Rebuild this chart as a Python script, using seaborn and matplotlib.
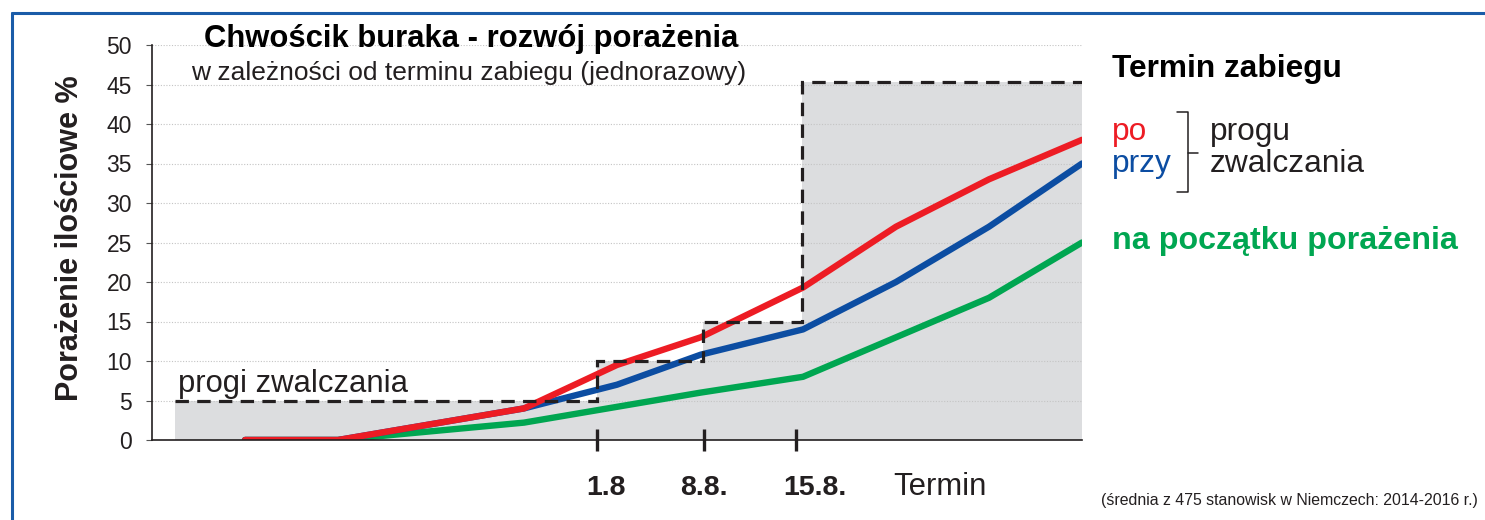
import pandas as pd
import seaborn as sns
import matplotlib.pyplot as plt
from matplotlib.lines import Line2D
from matplotlib.transforms import ScaledTranslation

# wartości (oś x w jednostkach kolejnych terminów)
termin_x = [0, 1, 3, 4, 4.9, 6, 7, 8, 9]
po_progu = [0, 0, 4, 9.5, 13, 19.3, 27, 33, 38]
przy_progu = [0, 0, 4, 7, 10.8, 14, 20, 27, 35]
na_poczatku = [0, 0, 2.2, 4.2, 6, 8, 13, 18, 25]

# progi zwalczania (schodki)
prog_granice = [-0.75, 3.78, 4.92, 5.99, 9.0]
prog_wartosci = [5, 10, 15, 45.3]

daty_x = [3.78, 4.935, 5.92]
daty_etykiety = ["1.8", "8.8.", "15.8."]
y_ticks = list(range(0, 55, 5))

serie = ["na początku", "przy", "po"]
kolory = {"po": "#ed1c24", "przy": "#0c4da2", "na początku": "#00a651"}
ciemny = "#231f20"

df = pd.DataFrame({
    "x": termin_x * 3,
    "y": po_progu + przy_progu + na_poczatku,
    "seria": ["po"] * len(termin_x) + ["przy"] * len(termin_x) + ["na początku"] * len(termin_x),
})

sns.set_style("white")
plt.rcParams['font.family'] = ['Liberation Sans', 'DejaVu Sans']

fig = plt.figure(figsize=(14.85, 5.2), dpi=100)
W, H = 1485, 520
ax = fig.add_axes([152 / W, 1 - 440 / H, 930 / W, 395 / H])

ax.stairs(prog_wartosci, prog_granice, fill=True, color="#dcdddf", baseline=0, zorder=0.3)

sns.lineplot(data=df, x="x", y="y", hue="seria", hue_order=serie, palette=kolory,
             linewidth=4.6, legend=False, sort=False, ax=ax, zorder=2,
             solid_capstyle="round", solid_joinstyle="round")

ax.stairs(prog_wartosci, prog_granice, baseline=None, color=ciemny, linewidth=2.3,
          linestyle=(0, (4.2, 2.6)), zorder=3)

ax.set_xlim(-1, 9)
ax.set_ylim(0, 50)
ax.set_axisbelow(True)
ax.yaxis.grid(True, linestyle=(0, (1, 1.5)), color="#c4c4c4", linewidth=0.8)
ax.xaxis.grid(False)

ax.set_yticks(y_ticks)
ax.tick_params(axis="y", left=True, length=4.5, width=0.8, color="#555555",
               labelsize=16.5, pad=10, labelcolor=ciemny)
ax.set_xticks(daty_x, daty_etykiety)
ax.tick_params(axis="x", bottom=True, direction="inout", length=16, width=2.4, color=ciemny,
               labelsize=20.5, pad=17, labelcolor=ciemny)
# etykiety dat lekko przesunięte w prawo, jak w oryginale
for lab, dx in zip(ax.get_xticklabels(), [9, 0, 19]):
    lab.set_fontweight("bold")
    lab.set_transform(lab.get_transform() + ScaledTranslation(dx / 100, 0, fig.dpi_scale_trans))

for s in ["top", "right"]:
    ax.spines[s].set_visible(False)
for s in ["left", "bottom"]:
    ax.spines[s].set_color(ciemny)
    ax.spines[s].set_linewidth(1.2)

ax.set_xlabel("")
ax.set_ylabel("Porażenie ilościowe %", fontsize=22, fontweight="bold", color=ciemny)
ax.yaxis.set_label_coords(-0.088, 0.511)
ax.yaxis.label.set_verticalalignment("center")

ax.text(-0.72, 6.1, "progi zwalczania", fontsize=22.3, color=ciemny, va="baseline")

# tytuł
fig.text(471 / W, 1 - 47 / H, "Chwościk buraka - rozwój porażenia", ha="center", va="baseline",
         fontsize=22.3, fontweight="bold", color="black")
fig.text(469 / W, 1 - 80 / H, "w zależności od terminu zabiegu (jednorazowy)", ha="center",
         va="baseline", fontsize=19, color=ciemny)

fig.text(893 / W, 1 - 495 / H, "Termin", fontsize=22.3, va="baseline", color=ciemny)

# legenda po prawej
fig.text(1112 / W, 1 - 77 / H, "Termin zabiegu", fontsize=22.8, fontweight="bold", va="baseline", color="black")
fig.text(1112 / W, 1 - 140 / H, "po", fontsize=22.8, va="baseline", color=kolory["po"])
fig.text(1112 / W, 1 - 172 / H, "przy", fontsize=22.8, va="baseline", color=kolory["przy"])
fig.text(1210 / W, 1 - 140 / H, "progu", fontsize=22.8, va="baseline", color=ciemny)
fig.text(1210 / W, 1 - 172 / H, "zwalczania", fontsize=22.8, va="baseline", color=ciemny)
fig.text(1112 / W, 1 - 249 / H, "na początku porażenia", fontsize=23.2, fontweight="bold",
         va="baseline", color=kolory["na początku"])

bx = [1177 / W, 1188 / W, 1188 / W, 1177 / W]
by = [1 - 112 / H, 1 - 112 / H, 1 - 192 / H, 1 - 192 / H]
fig.add_artist(Line2D(bx, by, color=ciemny, linewidth=1.1))
fig.add_artist(Line2D([1188 / W, 1198 / W], [1 - 153 / H, 1 - 153 / H], color=ciemny, linewidth=1.1))

fig.text(1478 / W, 1 - 505 / H, "(średnia z 475 stanowisk w Niemczech: 2014-2016 r.)",
         ha="right", va="baseline", fontsize=11.4, color=ciemny)

# niebieska ramka
rama = "#1a5ca8"
fig.add_artist(Line2D([12 / W, 1.0], [1 - 13 / H, 1 - 13 / H], color=rama, linewidth=2.2))
fig.add_artist(Line2D([12 / W, 12 / W], [0, 1 - 13 / H], color=rama, linewidth=2.2))

fig.savefig("out.png", dpi=100)
